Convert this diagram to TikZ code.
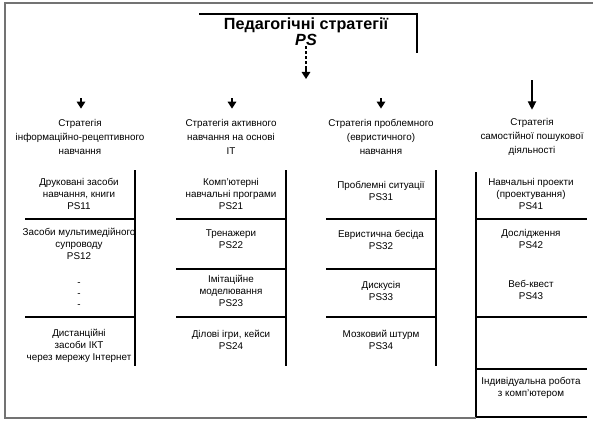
\documentclass[tikz,border=0pt]{standalone}
\usepackage{fontspec}
\setmainfont{Liberation Sans}
\usetikzlibrary{arrows.meta}
\tikzset{
	frameline/.style={line width=1.1pt, color=black!55},
	bracketline/.style={line width=1.2pt},
	headtext/.style={align=center, inner sep=0pt, font=\fontsize{7}{10}\selectfont},
	celltext/.style={align=center, inner sep=0pt, font=\fontsize{7}{8.5}\selectfont},
	downarrow/.style={line width=1.6pt, -{Triangle[length=5pt,width=6pt]}},
}

\begin{document}
\begin{tikzpicture}[x=0.025cm, y=-0.025cm]
			%%%%% START %%%%%
			\useasboundingbox (0,0) rectangle (593,422);
			
			\draw[frameline] (593,3) -- (5,3) -- (5,418) -- (476,418);
			
			\draw[line width=1pt] (199,14) -- (417,14) -- (417,53);
			\node[align=center, inner sep=0pt, font=\fontsize{11.5}{9.5}\selectfont\bfseries] (title) at (306,32) {Педагогічні стратегії\\\textit{PS}};
			\coordinate (tmid) at (306,68);
			\coordinate (ttip) at (306,79);
			\draw[line width=1pt, dash pattern=on 2pt off 1.5pt] (title.south) -- (tmid);
			\draw[downarrow] (tmid) -- (ttip);
			
			\node[headtext] (h1) at (80,137) {Стратегія\\інформаційно-рецептивного\\навчання};
			\node[headtext] (h2) at (231,137) {Стратегія активного\\навчання на основі\\ІТ};
			\node[headtext] (h3) at (381,137) {Стратегія проблемного\\(евристичного)\\навчання};
			\node[headtext] (h4) at (532,137) {Стратегія\\самостійної пошукової\\діяльності};
			
			\coordinate (a1) at (81,98);
			\coordinate (a2) at (232,98);
			\coordinate (a3) at (381,98);
			\coordinate (a4) at (532,80);
			\draw[downarrow, shorten >=2.6mm] (a1) -- (h1.north -| a1);
			\draw[downarrow, shorten >=2.6mm] (a2) -- (h2.north -| a2);
			\draw[downarrow, shorten >=2.6mm] (a3) -- (h3.north -| a3);
			\draw[line width=0.8pt, -{Triangle[length=6pt,width=6pt]}, shorten >=2.1mm] (a4) -- (h4.north -| a4);
			
			% column 1
			\draw[bracketline] (135,170) -- (135,366);
			\draw[bracketline] (25,219) -- (135,219);
			\draw[bracketline] (25,317) -- (135,317);
			\node[celltext] (c11) at (79,194) {Друковані засоби\\навчання, книги\\PS11};
			\node[celltext] (c12) at (79,244) {Засоби мультимедійного\\супроводу\\PS12};
			\node[celltext] (c1d) at (79,295) {-\\[-1pt]-\\[-1pt]-};
			\node[celltext] (c1n) at (79,346) {Дистанційні\\засоби ІКТ\\через мережу Інтернет};
			
			% column 2
			\draw[bracketline] (286,170) -- (286,366);
			\draw[bracketline] (176,219) -- (286,219);
			\draw[bracketline] (176,269) -- (286,269);
			\draw[bracketline] (176,317) -- (286,317);
			\node[celltext] (c21) at (231,194) {Комп'ютерні\\навчальні програми\\PS21};
			\node[celltext] (c22) at (231,239) {Тренажери\\PS22};
			\node[celltext] (c23) at (231,291) {Імітаційне\\моделювання\\PS23};
			\node[celltext] (c24) at (231,340) {Ділові ігри, кейси\\PS24};
			
			% column 3
			\draw[bracketline] (436,170) -- (436,366);
			\draw[bracketline] (326,219) -- (436,219);
			\draw[bracketline] (326,269) -- (436,269);
			\draw[bracketline] (326,317) -- (436,317);
			\node[celltext] (c31) at (381,191) {Проблемні ситуації\\PS31};
			\node[celltext] (c32) at (381,240) {Евристична бесіда\\PS32};
			\node[celltext] (c33) at (381,291) {Дискусія\\PS33};
			\node[celltext] (c34) at (381,340) {Мозковий штурм\\PS34};
			
			% column 4
			\draw[bracketline] (476,172) -- (476,417);
			\draw[bracketline] (476,219) -- (587,219);
			\draw[bracketline] (476,317) -- (587,317);
			\draw[bracketline] (476,369) -- (587,369);
			\draw[bracketline] (476,417) -- (587,417);
			\node[celltext] (c41) at (531,194) {Навчальні проекти\\(проектування)\\PS41};
			\node[celltext] (c42) at (531,239) {Дослідження\\PS42};
			\node[celltext] (c43) at (531,290) {Веб-квест\\PS43};
			\node[celltext] (c45) at (531,388) {Індивідуальна робота\\з комп'ютером};
			
			%%%%% END %%%%%
\end{tikzpicture}
\end{document}
